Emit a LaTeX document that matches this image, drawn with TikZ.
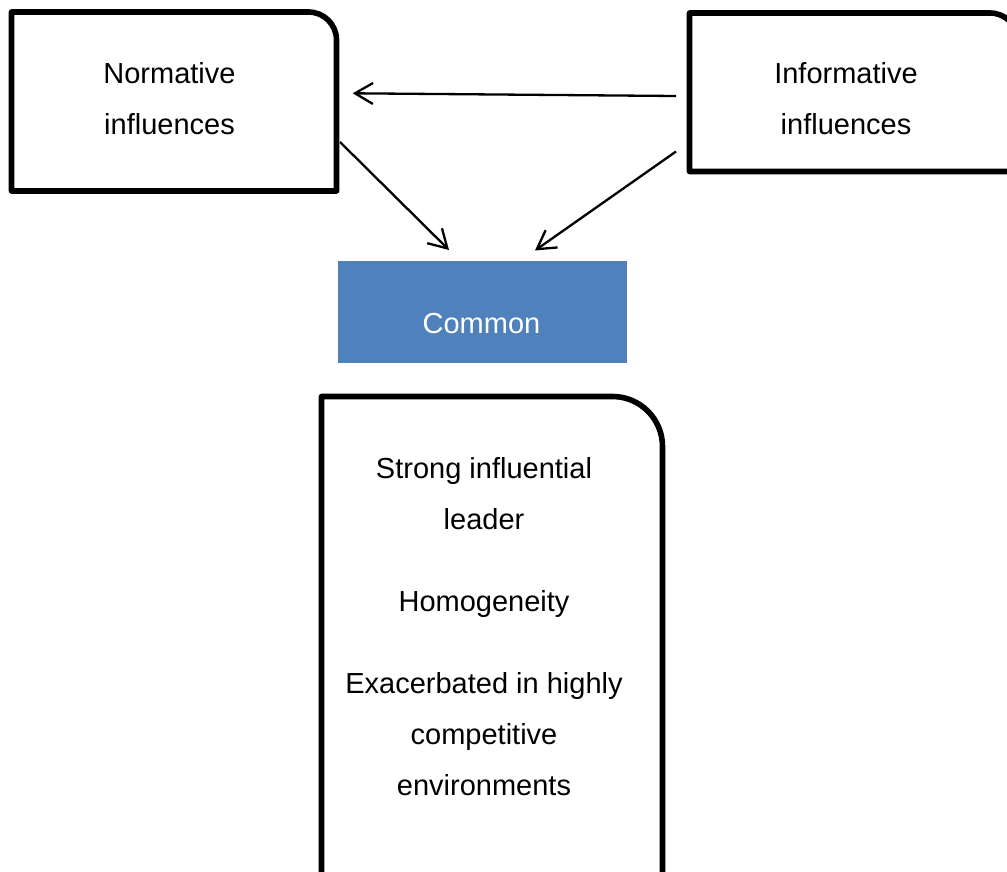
\documentclass[tikz,border=0pt]{standalone}
\usepackage{fontspec}
\setmainfont{Liberation Sans}
\usetikzlibrary{arrows.meta}
\definecolor{commonblue}{HTML}{4F81BD}
\tikzset{
  frame/.style={draw=none, inner sep=0pt, outer sep=0pt},
  outline/.style={draw=black, line width=5.6pt, line join=round},
  label text/.style={inner sep=0pt, outer sep=0pt, align=center, anchor=base,
    font=\fontsize{29}{51}\selectfont},
  link/.style={draw=black, line width=2.3pt,
    -{Straight Barb[length=18pt,width=21pt]}},
}
\begin{document}
\begin{tikzpicture}[x=1pt,y=1pt]
  \useasboundingbox (0,0) rectangle (1007,-872);
  \fill[white] (0,0) rectangle (1007,-872);
  \clip (0,0) rectangle (1007,-872);

  % box areas
  \node[frame, minimum width=325pt, minimum height=179pt] (norm) at (174,-101.5) {};
  \node[frame, minimum width=328.5pt, minimum height=158.5pt] (info) at (853.75,-92.25) {};
  \node[frame, fill=commonblue, minimum width=289pt, minimum height=102pt] (common) at (482.5,-312) {};
  \node[frame, minimum width=341pt, minimum height=503.5pt] (traits) at (492,-648.25) {};

  % outlines with one rounded corner at the top right
  \draw[outline] (norm.south west) -- (norm.north west)
    -- ([xshift=-28pt]norm.north east) arc[start angle=90, end angle=0, radius=28pt]
    -- (norm.south east) -- cycle;
  \draw[outline] (info.south west) -- (info.north west)
    -- ([xshift=-28pt]info.north east) arc[start angle=90, end angle=0, radius=28pt]
    -- (info.south east) -- cycle;
  \draw[outline] (traits.south west) -- (traits.north west)
    -- ([xshift=-50pt]traits.north east) arc[start angle=90, end angle=0, radius=50pt]
    -- (traits.south east) -- cycle;

  % texts (the base anchor sits on the last line)
  \node[label text] (normtext) at (169.5,-135) {Normative\\influences};
  \node[label text] (infotext) at (846,-135) {Informative\\influences};
  \node[label text, text=white] (commontext) at (481.5,-333) {Common};
  \node[label text] (traitstext) at (484,-795)
    {Strong influential\\leader\\[31pt]Homogeneity\\[31pt]Exacerbated in highly\\competitive\\environments};

  % connectors
  \draw[link] ([xshift=-13.5pt,yshift=-3.75pt]info.west) -- ([xshift=16.2pt,yshift=8.2pt]norm.east);
  \draw[link] ([xshift=3.5pt,yshift=-40.5pt]norm.east) -- ([xshift=-33.5pt,yshift=11pt]common.north);
  \draw[link] ([xshift=-13.5pt,yshift=-59.25pt]info.west) -- ([xshift=52.5pt,yshift=10.5pt]common.north);
\end{tikzpicture}
\end{document}
